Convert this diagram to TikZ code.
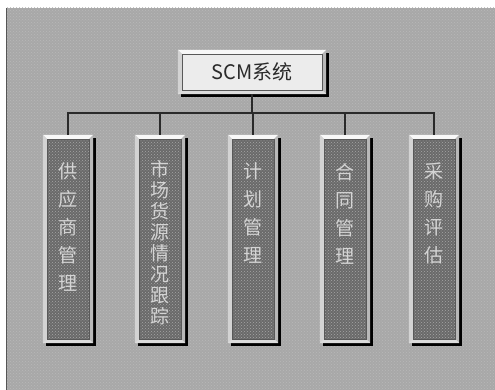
\documentclass[tikz,border=0pt]{standalone}
\usepackage{fontspec}
\setmainfont{Noto Sans CJK SC}
\usetikzlibrary{patterns,shadows}
\definecolor{bgc}{HTML}{A8A8A8}
\definecolor{innerc}{HTML}{6A6A6A}
\definecolor{framec}{HTML}{DCDCDC}
\definecolor{hilite}{HTML}{F8F8F8}
\definecolor{lowlite}{HTML}{B8B8B8}
\definecolor{facec}{HTML}{ECECEC}
\definecolor{txtc}{HTML}{D4D4D4}
\definecolor{linec}{HTML}{2A2A2A}
\newcommand{\pfont}[1]{\fontsize{19}{#1}\selectfont\lineskiplimit=-50pt\relax}
\tikzset{
  pillar/.style={rectangle, minimum width=50pt, minimum height=208pt, inner sep=0pt,
    fill=framec, general shadow={fill=black, shadow xshift=3pt, shadow yshift=-3pt}},
  titlebox/.style={rectangle, minimum width=148pt, minimum height=44pt, inner sep=0pt,
    fill=facec, text=linec, font=\fontsize{20}{24}\selectfont,
    general shadow={fill=black, shadow xshift=3pt, shadow yshift=-3pt}},
  ptext/.style={inner sep=0pt, align=center, text=txtc, anchor=north},
  conn/.style={draw=linec, line width=1.1pt},
}
\newcommand{\bevel}[2]{%
  \fill[hilite] (#1.north west) -- (#1.north east) -- ([xshift=-#2,yshift=-#2]#1.north east) -- ([xshift=#2,yshift=-#2]#1.north west) -- cycle;
  \fill[hilite!85!black] (#1.north west) -- (#1.south west) -- ([xshift=#2,yshift=#2]#1.south west) -- ([xshift=#2,yshift=-#2]#1.north west) -- cycle;
  \fill[lowlite] (#1.north east) -- (#1.south east) -- ([xshift=-#2,yshift=#2]#1.south east) -- ([xshift=-#2,yshift=-#2]#1.north east) -- cycle;
  \fill[framec] (#1.south west) -- (#1.south east) -- ([xshift=-#2,yshift=#2]#1.south east) -- ([xshift=#2,yshift=#2]#1.south west) -- cycle;
  \draw[gray!70!black, line width=0.5pt] ([xshift=#2,yshift=-#2]#1.north west) rectangle ([xshift=-#2,yshift=#2]#1.south east);
}
\begin{document}
\begin{tikzpicture}[x=1pt,y=-1pt]
\useasboundingbox (0,0) rectangle (495,390);
\fill[white] (0,0) rectangle (495,390);
\fill[bgc] (6,8) rectangle (495,390);
\fill[pattern=crosshatch dots, pattern color=bgc!80!white] (6,8) rectangle (495,390);
\draw[linec!80, line width=1.2pt] (6.6,8) -- (6.6,390);

% title
\node[titlebox] (top) at (252,72) {SCM系统};
\bevel{top}{4pt}

% pillars
\foreach \n/\x in {p1/68, p2/160, p3/253, p4/345, p5/434}{
  \node[pillar] (\n) at (\x,239) {};
  \fill[innerc] ([xshift=4pt,yshift=-4pt]\n.north west) rectangle ([xshift=-4pt,yshift=4pt]\n.south east);
  \fill[pattern=crosshatch dots, pattern color=innerc!60!white] ([xshift=4pt,yshift=-4pt]\n.north west) rectangle ([xshift=-4pt,yshift=4pt]\n.south east);
  \bevel{\n}{4pt}
}

\node[ptext, font=\pfont{28}] (t1) at ([yshift=-28pt]p1.north) {供\\应\\商\\管\\理};
\node[ptext, font=\pfont{21}] (t2) at ([yshift=-25pt]p2.north) {市\\场\\货\\源\\情\\况\\跟\\踪};
\node[ptext, font=\pfont{28}] (t3) at ([yshift=-28pt]p3.north) {计\\划\\管\\理};
\node[ptext, font=\pfont{28}] (t4) at ([yshift=-28pt]p4.north) {合\\同\\管\\理};
\node[ptext, font=\pfont{28}] (t5) at ([yshift=-28pt]p5.north) {采\\购\\评\\估};

% connectors
\coordinate (hub) at (252,113);
\draw[conn] (top.south) -- (hub);
\foreach \n in {p1,p2,p3,p4,p5}{
  \draw[conn] (hub) -| (\n.north);
}
\end{tikzpicture}
\end{document}
